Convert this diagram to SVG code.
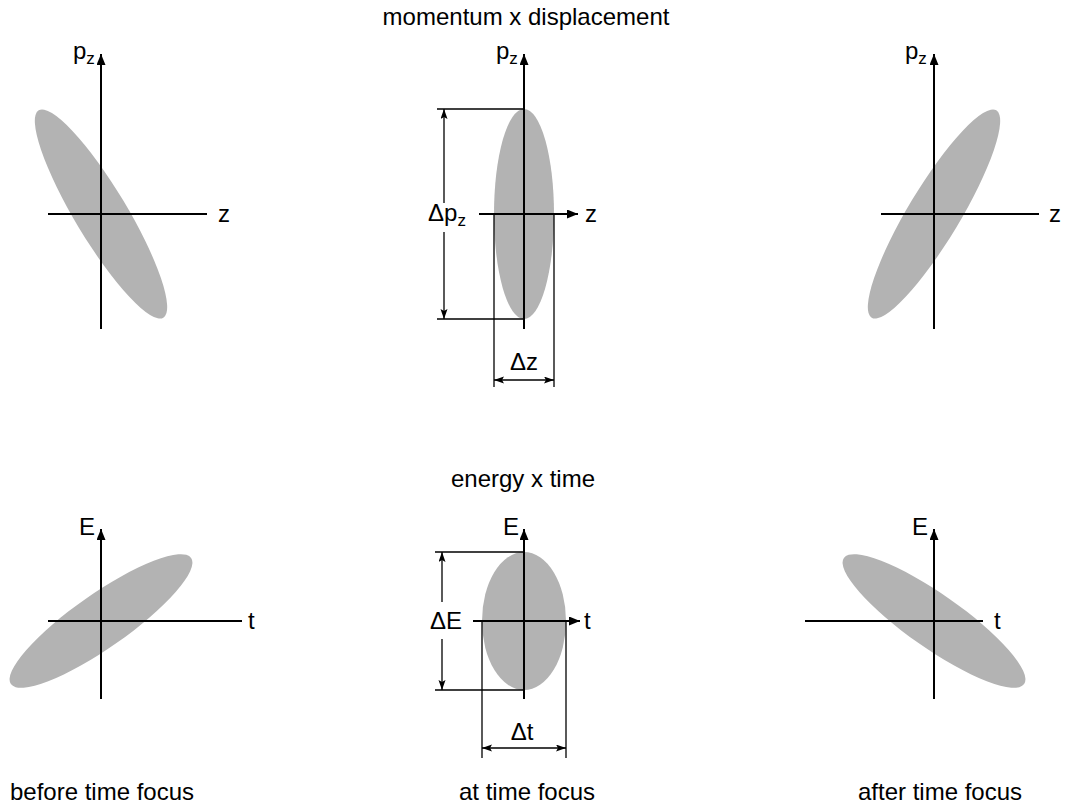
<svg xmlns="http://www.w3.org/2000/svg" width="1066" height="805" viewBox="0 0 1066 805">
<style>
text{font-family:"Liberation Sans",Arial,sans-serif;font-size:24px;fill:#000}
.sub{font-size:17px}
.ax{stroke:#000;stroke-width:2;fill:none}
.dim{stroke:#000;stroke-width:1.3;fill:none}
.blob{fill:#b3b3b3;stroke:none}
</style>
<defs>
<marker id="ah" markerUnits="userSpaceOnUse" markerWidth="12" markerHeight="10" refX="11" refY="4.5" orient="auto"><path d="M0,0 L11,4.5 L0,9 z" fill="#000"/></marker>
<marker id="dh" markerUnits="userSpaceOnUse" markerWidth="12" markerHeight="8" refX="10" refY="3.5" orient="auto-start-reverse"><path d="M0,0 L10,3.5 L0,7 L2,3.5 z" fill="#000"/></marker>
</defs>
<rect width="1066" height="805" fill="#fff"/>
<text x="526" y="25" text-anchor="middle">momentum x displacement</text>
<text x="523" y="487" text-anchor="middle">energy x time</text>
<text x="102" y="800" text-anchor="middle">before time focus</text>
<text x="527" y="800" text-anchor="middle">at time focus</text>
<text x="940" y="800" text-anchor="middle">after time focus</text>

<g id="panel1">
<ellipse class="blob" cx="101" cy="214" rx="121" ry="26" transform="rotate(59 101 214)"/>
</g>
<g id="panel2">
<ellipse class="blob" cx="524" cy="214" rx="30" ry="105"/>
</g>
<g id="panel3">
<ellipse class="blob" cx="934" cy="214" rx="121" ry="26" transform="rotate(-59 934 214)"/>
</g>
<g id="panel4">
<ellipse class="blob" cx="101" cy="621" rx="110" ry="27" transform="rotate(-35 101 621)"/>
</g>
<g id="panel5">
<ellipse class="blob" cx="524" cy="621" rx="42" ry="69"/>
</g>
<g id="panel6">
<ellipse class="blob" cx="934" cy="621" rx="110" ry="27" transform="rotate(35 934 621)"/>
</g>

<g id="connectors">
<line class="ax" x1="101" y1="329" x2="101" y2="54" marker-end="url(#ah)"/>
<line class="ax" x1="48" y1="214" x2="207" y2="214"/>
<line class="ax" x1="524" y1="329" x2="524" y2="54" marker-end="url(#ah)"/>
<line class="ax" x1="479" y1="214" x2="578" y2="214" marker-end="url(#ah)"/>
<line class="dim" x1="437" y1="109" x2="524" y2="109"/>
<line class="dim" x1="437" y1="319" x2="524" y2="319"/>
<line class="dim" x1="444" y1="109" x2="444" y2="203" marker-start="url(#dh)"/>
<line class="dim" x1="444" y1="232" x2="444" y2="319" marker-end="url(#dh)"/>
<line class="dim" x1="494" y1="214" x2="494" y2="387"/>
<line class="dim" x1="554" y1="214" x2="554" y2="387"/>
<line class="dim" x1="494" y1="380" x2="554" y2="380" marker-start="url(#dh)" marker-end="url(#dh)"/>
<line class="ax" x1="934" y1="329" x2="934" y2="54" marker-end="url(#ah)"/>
<line class="ax" x1="881" y1="214" x2="1039" y2="214"/>
<line class="ax" x1="101" y1="699" x2="101" y2="529" marker-end="url(#ah)"/>
<line class="ax" x1="48" y1="621" x2="242" y2="621"/>
<line class="ax" x1="524" y1="699" x2="524" y2="529" marker-end="url(#ah)"/>
<line class="ax" x1="473" y1="621" x2="580" y2="621" marker-end="url(#ah)"/>
<line class="dim" x1="435" y1="552" x2="524" y2="552"/>
<line class="dim" x1="435" y1="690" x2="524" y2="690"/>
<line class="dim" x1="442" y1="552" x2="442" y2="602" marker-start="url(#dh)"/>
<line class="dim" x1="442" y1="639" x2="442" y2="690" marker-end="url(#dh)"/>
<line class="dim" x1="482" y1="621" x2="482" y2="758"/>
<line class="dim" x1="566" y1="621" x2="566" y2="758"/>
<line class="dim" x1="482" y1="748" x2="566" y2="748" marker-start="url(#dh)" marker-end="url(#dh)"/>
<line class="ax" x1="934" y1="699" x2="934" y2="529" marker-end="url(#ah)"/>
<line class="ax" x1="805" y1="621" x2="983" y2="621"/>
</g>

<g id="labels">
<text x="73" y="59">p<tspan class="sub" dy="5">z</tspan></text>
<text x="218" y="222">z</text>
<text x="496" y="59">p<tspan class="sub" dy="5">z</tspan></text>
<text x="585" y="222">z</text>
<text x="428" y="221">Δp<tspan class="sub" dy="5">z</tspan></text>
<text x="524" y="370" text-anchor="middle">Δz</text>
<text x="905" y="59">p<tspan class="sub" dy="5">z</tspan></text>
<text x="1049" y="222">z</text>
<text x="79" y="535">E</text>
<text x="248" y="629">t</text>
<text x="503" y="535">E</text>
<text x="584" y="629">t</text>
<text x="430" y="629">ΔE</text>
<text x="522" y="740" text-anchor="middle">Δt</text>
<text x="912" y="535">E</text>
<text x="994" y="629">t</text>
</g>
</svg>
